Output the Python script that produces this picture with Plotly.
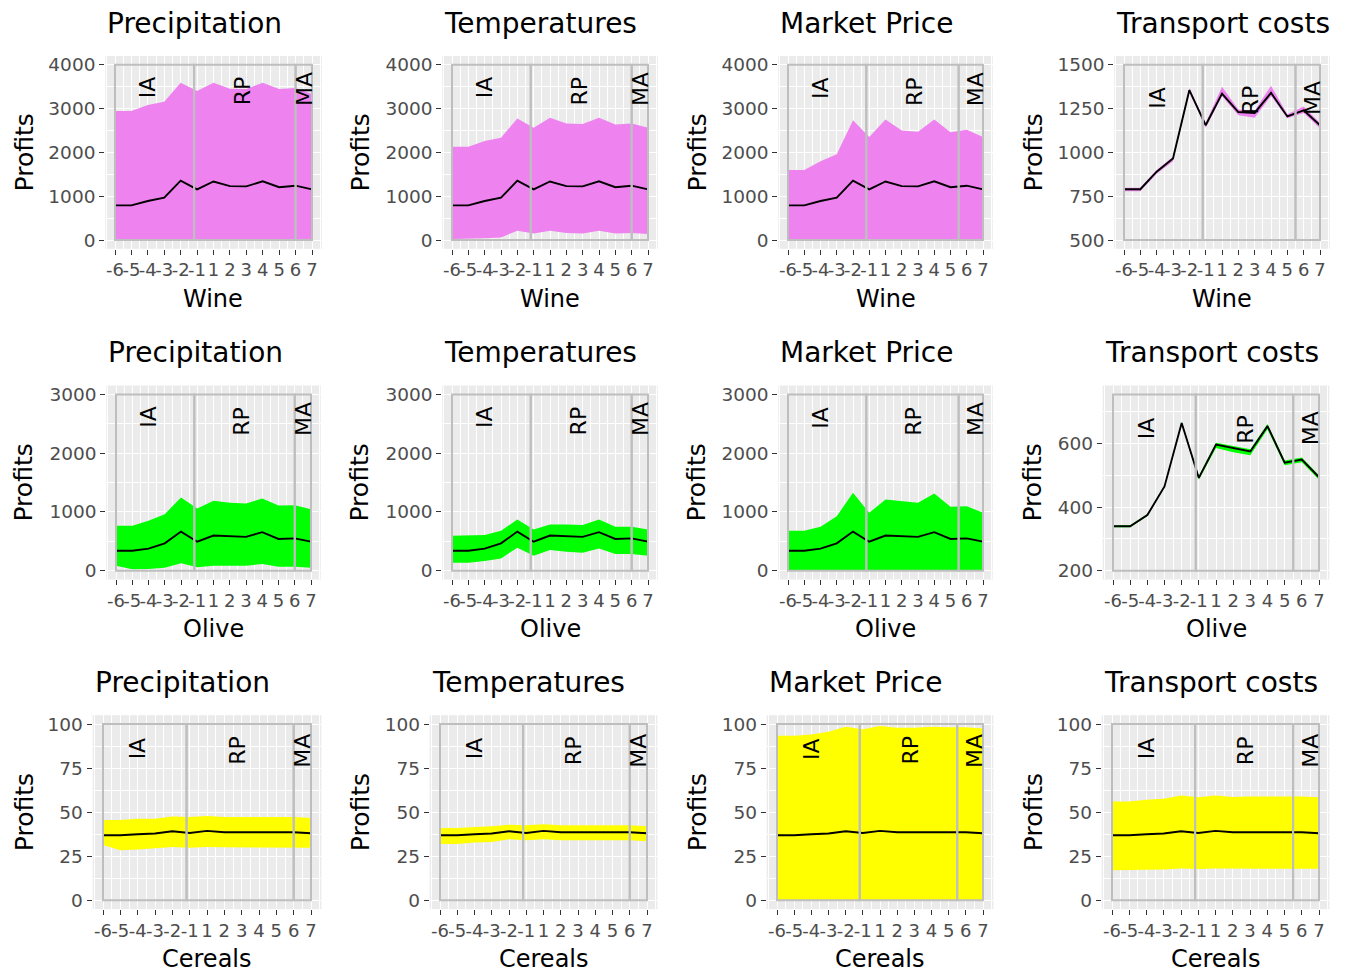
import plotly.graph_objects as go

# ---------------- data ----------------
x_labels = ['-6', '-5', '-4', '-3', '-2', '-1', '1', '2', '3', '4', '5', '6', '7']
x_idx = list(range(len(x_labels)))

factors = ['Precipitation', 'Temperatures', 'Market Price', 'Transport costs']
crops = ['Wine', 'Olive', 'Cereals']
crop_colors = {'Wine': '#EE82EE', 'Olive': '#00FF00', 'Cereals': '#FFFF00'}

period_names = ['IA', 'RP', 'MA']
period_start = 0
period_break1 = 4.82
period_break2_a = 11.0   # Precipitation / Temperatures panels
period_break2_b = 10.5   # Market Price / Transport costs panels
period_end = 12
label_x = [2.0, 7.75, 11.5]

# mean profits
wine_mean = [790, 790, 890, 965, 1355, 1155, 1335, 1230, 1225, 1340, 1205, 1240, 1155]
olive_mean = [340, 340, 375, 465, 665, 492, 597, 585, 575, 655, 540, 550, 494]
cereals_mean = [36.9, 36.9, 37.5, 37.9, 39.2, 38.2, 39.4, 38.6, 38.6, 38.8, 38.6, 38.6, 38.0]

# ribbons (lower / upper)
wine_precip_low = [0] * 13
wine_precip_up = [2945, 2945, 3080, 3155, 3590, 3400, 3590, 3455, 3445, 3590, 3445, 3470, 3330]
wine_temp_low = [25, 25, 40, 60, 210, 150, 210, 160, 150, 210, 150, 160, 135]
wine_temp_up = [2130, 2130, 2260, 2335, 2775, 2560, 2790, 2660, 2650, 2790, 2635, 2660, 2560]
wine_market_low = [0] * 13
wine_market_up = [1600, 1600, 1800, 1955, 2735, 2350, 2750, 2500, 2470, 2750, 2460, 2515, 2350]
wine_transport_low = [778, 778, 878, 950, 1345, 1140, 1320, 1212, 1198, 1322, 1195, 1225, 1138]
wine_transport_up = [798, 798, 900, 975, 1368, 1168, 1375, 1245, 1238, 1380, 1218, 1262, 1168]

olive_precip_low = [85, 23, 28, 51, 124, 57, 85, 90, 85, 113, 68, 68, 51]
olive_precip_up = [764, 764, 849, 962, 1245, 1058, 1188, 1154, 1143, 1228, 1109, 1115, 1047]
olive_temp_low = [136, 136, 164, 209, 390, 255, 351, 322, 306, 379, 283, 283, 255]
olive_temp_up = [594, 594, 605, 679, 872, 702, 787, 787, 775, 872, 747, 747, 702]
olive_market_low = [0] * 13
olive_market_up = [679, 679, 747, 928, 1324, 985, 1211, 1188, 1154, 1313, 1087, 1098, 985]
olive_transport_low = [337, 337, 372, 462, 661, 486, 586, 573, 563, 645, 532, 541, 486]
olive_transport_up = [343, 343, 378, 468, 669, 498, 603, 592, 582, 662, 547, 556, 500]

cereals_precip_low = [31.3, 28.4, 28.8, 29.4, 30.3, 29.8, 30.3, 30.1, 30.1, 30.1, 30.1, 30.1, 29.8]
cereals_precip_up = [45.5, 45.5, 46.3, 46.3, 47.6, 47.3, 47.8, 47.3, 47.3, 47.3, 47.3, 47.3, 46.7]
cereals_temp_low = [32.0, 32.0, 32.8, 33.1, 34.7, 34.1, 34.7, 34.1, 34.1, 34.1, 34.1, 34.1, 33.5]
cereals_temp_up = [41.0, 41.0, 41.6, 42.0, 42.9, 42.6, 43.1, 42.6, 42.6, 42.6, 42.6, 42.6, 42.0]
cereals_market_low = [0] * 13
cereals_market_up = [93.3, 93.3, 94.1, 95.6, 98.5, 97.1, 98.9, 97.9, 97.9, 98.5, 98.1, 98.1, 97.5]
cereals_transport_low = [17.1, 17.1, 17.3, 17.5, 18.1, 17.7, 18.1, 17.9, 17.9, 17.9, 17.9, 17.9, 17.9]
cereals_transport_up = [56.1, 56.1, 57.1, 57.6, 59.5, 58.4, 59.5, 58.6, 58.9, 58.9, 58.9, 58.9, 58.4]

# y scales
wine_ylim = [0, 4000]
wine_yticks = [0, 1000, 2000, 3000, 4000]
wine_transport_ylim = [500, 1500]
wine_transport_yticks = [500, 750, 1000, 1250, 1500]
olive_ylim = [0, 3000]
olive_yticks = [0, 1000, 2000, 3000]
olive_transport_ylim = [200, 755]
olive_transport_yticks = [200, 400, 600]
cereals_ylim = [0, 100]
cereals_yticks = [0, 25, 50, 75, 100]

panels = [
    # row 1
    ('Precipitation', 'Wine', wine_mean, wine_precip_low, wine_precip_up, wine_ylim, wine_yticks, period_break2_a),
    ('Temperatures', 'Wine', wine_mean, wine_temp_low, wine_temp_up, wine_ylim, wine_yticks, period_break2_a),
    ('Market Price', 'Wine', wine_mean, wine_market_low, wine_market_up, wine_ylim, wine_yticks, period_break2_b),
    ('Transport costs', 'Wine', wine_mean, wine_transport_low, wine_transport_up, wine_transport_ylim, wine_transport_yticks, period_break2_b),
    # row 2
    ('Precipitation', 'Olive', olive_mean, olive_precip_low, olive_precip_up, olive_ylim, olive_yticks, period_break2_a),
    ('Temperatures', 'Olive', olive_mean, olive_temp_low, olive_temp_up, olive_ylim, olive_yticks, period_break2_a),
    ('Market Price', 'Olive', olive_mean, olive_market_low, olive_market_up, olive_ylim, olive_yticks, period_break2_b),
    ('Transport costs', 'Olive', olive_mean, olive_transport_low, olive_transport_up, olive_transport_ylim, olive_transport_yticks, period_break2_b),
    # row 3
    ('Precipitation', 'Cereals', cereals_mean, cereals_precip_low, cereals_precip_up, cereals_ylim, cereals_yticks, period_break2_a),
    ('Temperatures', 'Cereals', cereals_mean, cereals_temp_low, cereals_temp_up, cereals_ylim, cereals_yticks, period_break2_a),
    ('Market Price', 'Cereals', cereals_mean, cereals_market_low, cereals_market_up, cereals_ylim, cereals_yticks, period_break2_b),
    ('Transport costs', 'Cereals', cereals_mean, cereals_transport_low, cereals_transport_up, cereals_ylim, cereals_yticks, period_break2_b),
]

# ---------------- layout (pixel boxes of the data rectangle) ----------------
W, H = 1359, 976
row_y = [(63, 239), (394, 571), (725, 902)]
col_x = [
    [(115, 312), (452, 648), (788, 983), (1124, 1320)],
    [(116, 311), (452, 648), (788, 983), (1113, 1319)],
    [(103, 311), (440, 647), (777, 983), (1112, 1319)],
]
label_frac = [
    [[0.87, 0.85, 0.86]] * 3 + [[0.81, 0.80, 0.81]],
    [[0.87, 0.85, 0.86]] * 3 + [[0.81, 0.80, 0.81]],
    [[0.86, 0.85, 0.85]] * 4,
]

FONT = 'DejaVu Sans'
GRID_BG = '#EBEBEB'
RECT_COL = '#BEBEBE'

fig = go.Figure()
layout = dict(
    width=W, height=H, margin=dict(l=0, r=0, t=0, b=0),
    paper_bgcolor='white', plot_bgcolor=GRID_BG, showlegend=False,
    font=dict(family=FONT, color='black'),
)
shapes = []
annotations = []

for i, (title, crop, mean, low, up, ylim, yticks, brk2) in enumerate(panels):
    r, c = divmod(i, 4)
    n = i + 1
    xa = 'x' if n == 1 else f'x{n}'
    ya = 'y' if n == 1 else f'y{n}'
    xkey = 'xaxis' if n == 1 else f'xaxis{n}'
    ykey = 'yaxis' if n == 1 else f'yaxis{n}'

    L, R = col_x[r][c]
    T, B = row_y[r]
    w, h = R - L, B - T
    pl, pr = L - 0.05 * w, R + 0.05 * w
    pt, pb = T - 0.05 * h, B + 0.05 * h
    xdom = [pl / W, pr / W]
    ydom = [1 - pb / H, 1 - pt / H]

    col = crop_colors[crop]
    fig.add_trace(go.Scatter(x=x_idx, y=low, mode='lines', line=dict(width=0, color=col),
                             xaxis=xa, yaxis=ya, hoverinfo='skip'))
    fig.add_trace(go.Scatter(x=x_idx, y=up, mode='lines', line=dict(width=0, color=col),
                             fill='tonexty', fillcolor=col, xaxis=xa, yaxis=ya, hoverinfo='skip'))
    fig.add_trace(go.Scatter(x=x_idx, y=mean, mode='lines', line=dict(width=1.9, color='black'),
                             xaxis=xa, yaxis=ya))

    xr = period_end - period_start
    yr = ylim[1] - ylim[0]
    ystep = yticks[1] - yticks[0]
    ymin_minor = [v + ystep / 2 for v in [yticks[0] - ystep] + yticks]

    layout[xkey] = dict(
        domain=xdom, anchor=ya, range=[period_start - 0.05 * xr, period_end + 0.05 * xr],
        tickmode='array', tickvals=x_idx, ticktext=x_labels, tickangle=0,
        showgrid=True, gridcolor='white', gridwidth=1.3, zeroline=False, showline=False,
        ticks='outside', ticklen=5, tickwidth=1.4, tickcolor='#333333',
        tickfont=dict(family=FONT, size=18, color='#4D4D4D'),
        minor=dict(tickmode='array', tickvals=[k + 0.5 for k in range(-1, 13)],
                   showgrid=True, gridcolor='white', gridwidth=0.6, ticks=''),
        fixedrange=True,
    )
    layout[ykey] = dict(
        domain=ydom, anchor=xa, range=[ylim[0] - 0.05 * yr, ylim[1] + 0.05 * yr],
        tickmode='array', tickvals=yticks, ticktext=[str(v) for v in yticks],
        showgrid=True, gridcolor='white', gridwidth=1.3, zeroline=False, showline=False,
        ticks='outside', ticklen=5, tickwidth=1.4, tickcolor='#333333',
        tickfont=dict(family=FONT, size=18.5, color='#4D4D4D'),
        minor=dict(tickmode='array', tickvals=ymin_minor,
                   showgrid=True, gridcolor='white', gridwidth=0.6, ticks=''),
        fixedrange=True,
    )

    # period rectangles
    bounds = [period_start, period_break1, brk2, period_end]
    for k in range(3):
        shapes.append(dict(type='rect', xref=xa, yref=ya, x0=bounds[k], x1=bounds[k + 1],
                           y0=ylim[0], y1=ylim[1], line=dict(color=RECT_COL, width=2),
                           fillcolor='rgba(0,0,0,0)', layer='above'))
    # period labels
    for k, name in enumerate(period_names):
        annotations.append(dict(text=name, xref=xa, yref=ya, x=label_x[k],
                                y=ylim[0] + label_frac[r][c][k] * yr, showarrow=False,
                                textangle=-90, xanchor='center', yanchor='middle',
                                font=dict(family=FONT, size=22, color='black')))
    # title (left aligned on panel)
    annotations.append(dict(text=title, xref='paper', yref='paper', x=pl / W,
                            y=1 - (pt - 33) / H, xanchor='left', yanchor='middle',
                            showarrow=False, font=dict(family=FONT, size=28, color='black')))
    # x axis title
    annotations.append(dict(text=crop, xref='paper', yref='paper', x=(pl + pr) / 2 / W,
                            y=1 - (pb + 50) / H, xanchor='center', yanchor='middle',
                            showarrow=False, font=dict(family=FONT, size=24, color='black')))
    # y axis title
    ytitle_x = [24, 360, 697, 1033][c]
    annotations.append(dict(text='Profits', xref='paper', yref='paper', x=ytitle_x / W,
                            y=1 - ((pt + pb) / 2) / H, xanchor='center', yanchor='middle',
                            textangle=-90, showarrow=False,
                            font=dict(family=FONT, size=25, color='black')))

layout['shapes'] = shapes
layout['annotations'] = annotations
fig.update_layout(**layout)
fig.write_html('out.html', config={'displayModeBar': False},
               post_script="document.body.style.margin='0px';document.body.style.overflow='hidden';")
